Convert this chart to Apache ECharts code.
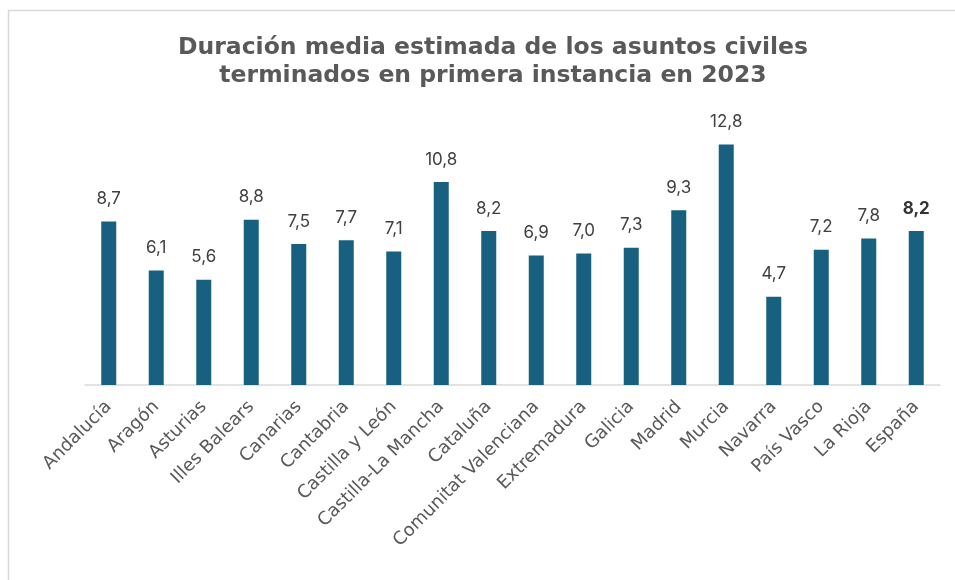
<!DOCTYPE html>
<html>
<head>
<meta charset="utf-8">
<script src="https://cdn.jsdelivr.net/npm/echarts@6/dist/echarts.min.js"></script>
<style>
  html, body { margin: 0; padding: 0; background: #fff; }
  #chart { width: 955px; height: 580px; }
</style>
</head>
<body>
<div id="chart"></div>
<script>
// comunidades autónomas + total nacional
const categories = [
  "Andalucía", "Aragón", "Asturias", "Illes Balears", "Canarias", "Cantabria",
  "Castilla y León", "Castilla-La Mancha", "Cataluña", "Comunitat Valenciana",
  "Extremadura", "Galicia", "Madrid", "Murcia", "Navarra", "País Vasco",
  "La Rioja", "España"
];
// duración media estimada (meses)
const duracion = [8.7, 6.1, 5.6, 8.8, 7.5, 7.7, 7.1, 10.8, 8.2, 6.9, 7.0, 7.3, 9.3, 12.8, 4.7, 7.2, 7.8, 8.2];

const barColor = "#17607f";
const textColor = "#595959";

let chart = echarts.init(document.getElementById("chart"));

// el total (España) va en negrita
let seriesData = duracion.map((v, i) => {
  if (categories[i] === "España") {
    return { value: v, label: { fontWeight: "bold", color: "#333" } };
  }
  return v;
});

let option = {
  animation: false,
  title: {
    text: "Duración media estimada de los asuntos civiles\nterminados en primera instancia en 2023",
    left: 488,
    textAlign: "center",
    top: 29,
    textStyle: {
      fontFamily: "DejaVu Sans",
      fontWeight: "bold",
      fontSize: 23.5,
      lineHeight: 28,
      color: textColor,
    },
  },
  graphic: [
    {
      type: "rect",
      shape: { x: 8.5, y: 10.5, width: 960, height: 600 },
      style: { fill: "none", stroke: "#d9d9d9", lineWidth: 1.5 },
      silent: true,
    },
  ],
  grid: {
    left: 85,
    right: 15,
    top: 122,
    bottom: 195,
  },
  xAxis: {
    type: "category",
    data: categories,
    axisLine: { lineStyle: { color: "#d9d9d9", width: 1.5 } },
    axisTick: { show: false },
    axisLabel: {
      interval: 0,
      rotate: 45,
      margin: 19,
      fontFamily: "DejaVu Sans",
      fontSize: 18,
      color: textColor,
    },
  },
  yAxis: {
    type: "value",
    min: 0,
    max: 14,
    show: false,
    splitLine: { show: false },
  },
  series: [
    {
      type: "bar",
      data: seriesData,
      barWidth: 15,
      itemStyle: { color: barColor },
      label: {
        show: true,
        position: "top",
        distance: 14,
        fontFamily: "Inter",
        fontSize: 17,
        color: "#404040",
        formatter: (p) => p.value.toFixed(1).replace(".", ","),
      },
    },
  ],
};

option && chart.setOption(option);
</script>
</body>
</html>
